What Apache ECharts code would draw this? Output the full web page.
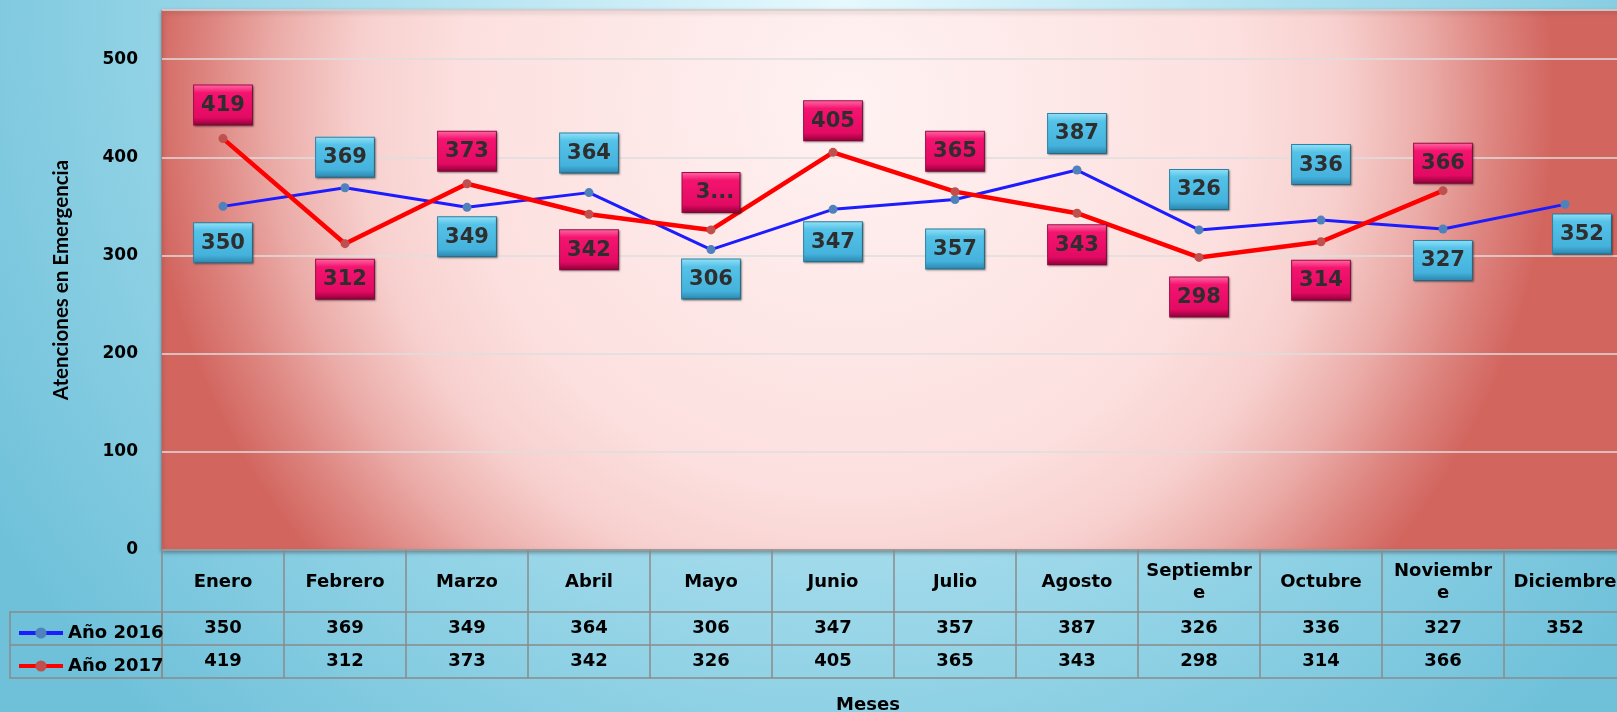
<!DOCTYPE html>
<html>
<head>
<meta charset="utf-8">
<script src="https://cdn.jsdelivr.net/npm/echarts@6/dist/echarts.min.js"></script>
<style>
html, body { margin: 0; padding: 0; }
#chart { width: 1617px; height: 712px; }
</style>
</head>
<body>
<div id="chart"></div>
<script>
var months = ['Enero', 'Febrero', 'Marzo', 'Abril', 'Mayo', 'Junio', 'Julio', 'Agosto', 'Septiembre', 'Octubre', 'Noviembre', 'Diciembre'];
var y2016 = [350, 369, 349, 364, 306, 347, 357, 387, 326, 336, 327, 352];
var y2017 = [419, 312, 373, 342, 326, 405, 365, 343, 298, 314, 366, null];

// where each data label sits (above/below the point) and how far
var side2016 = ['bottom', 'top', 'bottom', 'top', 'bottom', 'bottom', 'bottom', 'top', 'top', 'top', 'bottom', 'bottom'];
var gap2016 = [17, 11, 10, 20, 10, 13, 30, 17, 21, 36, 12, 10];
var side2017 = ['top', 'bottom', 'top', 'bottom', 'top', 'top', 'top', 'bottom', 'bottom', 'bottom', 'top'];
var gap2017 = [14, 16, 13, 16, 18, 12, 21, 12, 20, 19, 8];

var font = 'DejaVu Sans';
var grey = '#8a8a8a';

function points(values, side, gap, extra) {
	return values.map(function(v, i) {
		if (v == null) {
			return null;
		}
		var label = { position: side[i], distance: gap[i] - 4.5 };
		if (extra[i]) {
			Object.keys(extra[i]).forEach(function(k) {
				label[k] = extra[i][k];
			});
		}
		return { value: v, label: label };
	});
}

function box(stops, border) {
	return {
		show: true,
		color: '#2e2e2e',
		fontFamily: font,
		fontWeight: 'bold',
		fontSize: 21,
		lineHeight: 22,
		padding: [9, 7, 8, 7],
		borderWidth: 1,
		borderColor: border,
		backgroundColor: new echarts.graphic.LinearGradient(0, 0, 0, 1, stops),
		shadowColor: 'rgba(0,0,0,0.35)',
		shadowBlur: 2,
		shadowOffsetX: 1,
		shadowOffsetY: 1
	};
}

var blueBox = box([
	{ offset: 0, color: '#93e2f8' },
	{ offset: 0.2, color: '#55c2e8' },
	{ offset: 0.8, color: '#44b2dc' },
	{ offset: 1, color: '#2a84ab' }
], '#2d86aa');

var redBox = box([
	{ offset: 0, color: '#ff6aa6' },
	{ offset: 0.2, color: '#f4146f' },
	{ offset: 0.8, color: '#e30a63' },
	{ offset: 1, color: '#8c0036' }
], '#a30b48');

var tableText = { color: '#000', fontFamily: font, fontWeight: 'bold', fontSize: 18 };

var chart = echarts.init(document.getElementById('chart'));

var cellAxis = function(offset, formatter, labelMargin) {
	return {
		type: 'category',
		data: months,
		position: 'bottom',
		offset: offset,
		boundaryGap: true,
		axisLine: { lineStyle: { color: grey, width: 1.5 } },
		axisTick: { show: true, interval: 0, length: 33, lineStyle: { color: grey, width: 1.5 } },
		axisLabel: Object.assign({ interval: 0, margin: labelMargin, verticalAlign: 'middle', formatter: formatter }, tableText),
		splitLine: { show: false }
	};
};

var option = {
	animation: false,
	backgroundColor: new echarts.graphic.RadialGradient(0.52, 0, 1.4, [
		{ offset: 0, color: '#e6f9fe' },
		{ offset: 0.45, color: '#ade0ef' },
		{ offset: 1, color: '#6fc1da' }
	]),
	grid: {
		show: true,
		outerBoundsMode: 'none',
		left: 162,
		top: 10,
		width: 1464,
		height: 540,
		backgroundColor: new echarts.graphic.RadialGradient(0.47, 0.17, 1.3, [
			{ offset: 0, color: '#fff2f2' },
			{ offset: 0.55, color: '#fce0df' },
			{ offset: 0.7, color: '#f7d0ce' },
			{ offset: 0.82, color: '#ebaca8' },
			{ offset: 0.92, color: '#dd837e' },
			{ offset: 1, color: '#d2665f' }
		]),
		borderColor: '#bf5e59',
		borderWidth: 1,
		shadowColor: 'rgba(0,0,0,0.35)',
		shadowBlur: 4,
		shadowOffsetY: 2
	},
	legend: {
		data: ['Año 2016', 'Año 2017'],
		left: 12,
		top: 618,
		orient: 'vertical',
		itemWidth: 44,
		itemHeight: 14,
		itemGap: 13,
		selectedMode: false,
		lineStyle: { width: 4 },
		textStyle: Object.assign({ lineHeight: 20 }, tableText)
	},
	graphic: [
		{ type: 'rect', shape: { x: 10, y: 612, width: 152, height: 66 }, style: { fill: 'none', stroke: grey, lineWidth: 1.5 } },
		{ type: 'line', shape: { x1: 10, y1: 645, x2: 162, y2: 645 }, style: { stroke: grey, lineWidth: 1.5 } }
	],
	xAxis: [
		{
			type: 'category',
			data: months,
			position: 'bottom',
			boundaryGap: true,
			axisLine: { lineStyle: { color: grey, width: 1.5 } },
			axisTick: { show: true, interval: 0, length: 62, lineStyle: { color: grey, width: 1.5 } },
			axisLabel: Object.assign({ interval: 0, margin: 32, verticalAlign: 'middle', width: 106, overflow: 'breakAll', lineHeight: 22 }, tableText),
			splitLine: { show: false }
		},
		cellAxis(62, function(v, i) { return y2016[i] == null ? '' : String(y2016[i]); }, 16.5),
		cellAxis(95, function(v, i) { return y2017[i] == null ? '' : String(y2017[i]); }, 16.5),
		{
			type: 'category',
			data: months,
			position: 'bottom',
			offset: 128,
			axisLine: { lineStyle: { color: grey, width: 1.5 } },
			axisTick: { show: false },
			axisLabel: { show: false },
			name: 'Meses',
			nameLocation: 'middle',
			nameGap: 18,
			nameTextStyle: Object.assign({ padding: [0, 52, 0, 0], verticalAlign: 'top' }, tableText)
		}
	],
	yAxis: {
		type: 'value',
		min: 0,
		max: 550,
		interval: 100,
		axisLine: { show: false },
		axisTick: { show: false },
		splitLine: { lineStyle: { color: '#dedede', width: 1.5 } },
		axisLabel: { showMaxLabel: false, margin: 24, color: '#000', fontFamily: font, fontWeight: 'bold', fontSize: 17 },
		name: 'Atenciones en Emergencia',
		nameLocation: 'middle',
		nameGap: 90,
		nameTextStyle: { color: '#000', fontFamily: 'Lato', fontWeight: 'bold', fontSize: 20.5 }
	},
	series: [
		{
			name: 'Año 2016',
			type: 'line',
			xAxisIndex: 0,
			data: points(y2016, side2016, gap2016, { 11: { offset: [17, 0] } }),
			symbol: 'circle',
			symbolSize: 9,
			itemStyle: { color: '#4f81bd' },
			lineStyle: { color: '#1c1cff', width: 3 },
			label: blueBox,
			z: 3
		},
		{
			name: 'Año 2017',
			type: 'line',
			xAxisIndex: 0,
			data: points(y2017, side2017, gap2017, { 4: { width: 43, overflow: 'truncate', ellipsis: '...', padding: [9, 3, 8, 11] } }),
			symbol: 'circle',
			symbolSize: 9,
			itemStyle: { color: '#c0504d' },
			lineStyle: { color: '#ff0000', width: 4.5 },
			label: redBox,
			z: 4
		}
	]
};

chart.setOption(option);
</script>
</body>
</html>
